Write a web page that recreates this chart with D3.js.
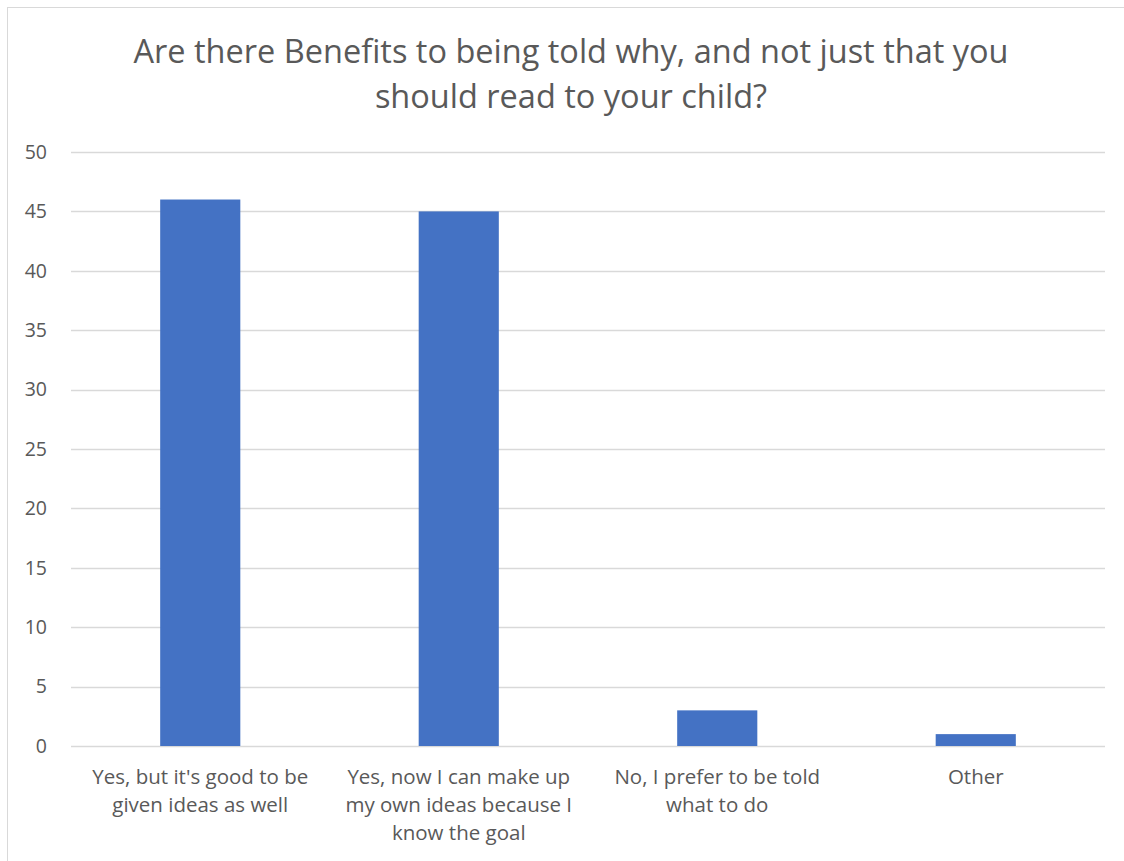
<!DOCTYPE html>
<html>
<head>
<meta charset="utf-8">
<script src="https://cdn.jsdelivr.net/npm/d3@7"></script>
<style>
  body { margin: 0; background: #fff; }
  svg { display: block; font-family: "Open Sans", Lato, sans-serif; }
</style>
</head>
<body>
<svg id="chart"></svg>
<script>
// chart data
const titleLines = ['Are there Benefits to being told why, and not just that you', 'should read to your child?'];
const categories = [
    ['Yes, but it\'s good to be', 'given ideas as well'],
    ['Yes, now I can make up', 'my own ideas because I', 'know the goal'],
    ['No, I prefer to be told', 'what to do'],
    ['Other']
];
const values = [46, 45, 3, 1];
const yTicks = [0, 5, 10, 15, 20, 25, 30, 35, 40, 45, 50];

const width = 1124;
const height = 861;
const margin = { top: 152, right: 19, bottom: 115, left: 71 };

const svg = d3.select('#chart')
    .attr('width', width)
    .attr('height', height);

// outer chart frame (only top and left edges visible in the picture)
svg.append('rect')
    .attr('x', 7.5).attr('y', 7.5)
    .attr('width', width + 20).attr('height', height + 20)
    .attr('fill', 'white')
    .attr('stroke', '#d9d9d9');

const x = d3.scaleBand()
    .domain(d3.range(categories.length))
    .range([margin.left, width - margin.right])
    .paddingInner(0.69)
    .paddingOuter(0.345);

const y = d3.scaleLinear()
    .domain([0, 50])
    .range([height - margin.bottom, margin.top]);

// gridlines
svg.append('g')
    .selectAll('line')
    .data(yTicks)
    .join('line')
    .attr('x1', margin.left)
    .attr('x2', width - margin.right)
    .attr('y1', d => Math.round(y(d)) + 0.5)
    .attr('y2', d => Math.round(y(d)) + 0.5)
    .attr('stroke', '#d9d9d9')
    .attr('stroke-width', 1.3);

// y tick labels
svg.append('g')
    .selectAll('text')
    .data(yTicks)
    .join('text')
    .attr('x', 47)
    .attr('y', d => y(d))
    .attr('dy', '0.35em')
    .attr('text-anchor', 'end')
    .attr('font-size', 19.5)
    .attr('fill', '#595959')
    .text(d => d);

// bars
svg.append('g')
    .selectAll('rect')
    .data(values)
    .join('rect')
    .attr('x', (d, i) => x(i))
    .attr('width', x.bandwidth())
    .attr('y', d => y(d))
    .attr('height', d => y(0) - y(d))
    .attr('fill', '#4472c4');

// category labels
const catLabel = svg.append('g')
    .selectAll('text')
    .data(categories)
    .join('text')
    .attr('text-anchor', 'middle')
    .attr('font-size', 20.5)
    .attr('fill', '#595959')
    .attr('transform', (d, i) => `translate(${x(i) + x.bandwidth() / 2},777)`);

catLabel.selectAll('tspan')
    .data(d => d)
    .join('tspan')
    .attr('x', 0)
    .attr('y', (d, i) => i * 28)
    .attr('dy', '0.35em')
    .text(d => d);

// title
svg.append('g')
    .selectAll('text')
    .data(titleLines)
    .join('text')
    .attr('x', 571)
    .attr('y', (d, i) => 52 + i * 45)
    .attr('dy', '0.35em')
    .attr('text-anchor', 'middle')
    .attr('font-size', 32.5)
    .attr('fill', '#595959')
    .text(d => d);
</script>
</body>
</html>
